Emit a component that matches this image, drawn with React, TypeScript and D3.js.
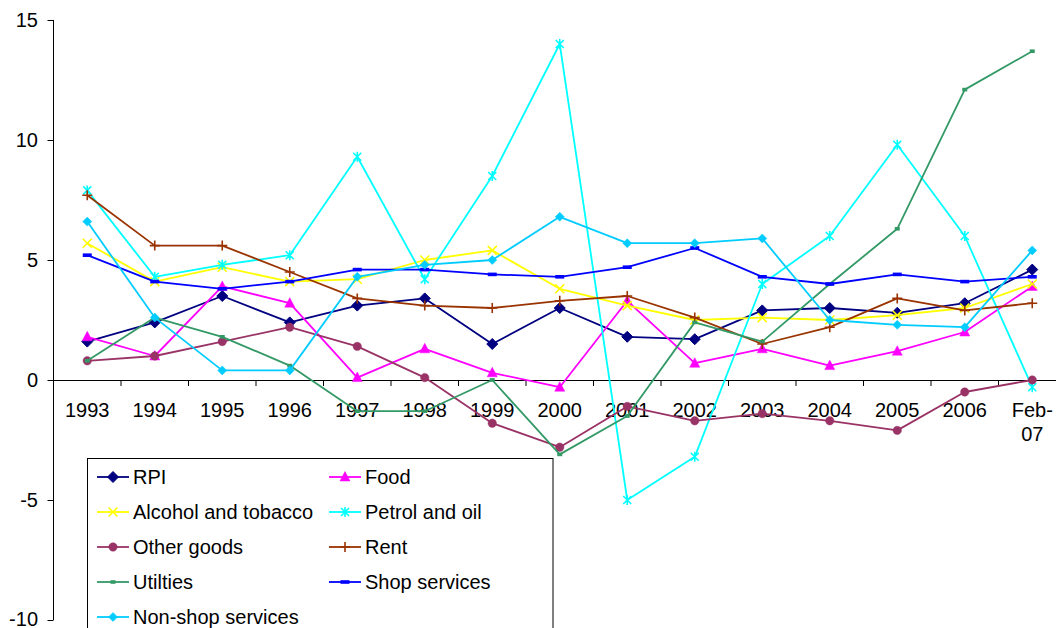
import React from "react";
import * as d3 from "d3";

const categories = ["1993","1994","1995","1996","1997","1998","1999","2000","2001","2002","2003","2004","2005","2006","Feb-07"];
const rpi = [1.6,2.4,3.5,2.4,3.1,3.4,1.5,3.0,1.8,1.7,2.9,3.0,2.8,3.2,4.6];
const food = [1.8,1.0,3.9,3.2,0.1,1.3,0.3,-0.3,3.3,0.7,1.3,0.6,1.2,2.0,3.9];
const alcohol = [5.7,4.1,4.7,4.1,4.2,5.0,5.4,3.8,3.1,2.5,2.6,2.5,2.7,3.0,4.0];
const petrol = [7.9,4.3,4.8,5.2,9.3,4.2,8.5,14.0,-5.0,-3.2,4.0,6.0,9.8,6.0,-0.3];
const otherGoods = [0.8,1.0,1.6,2.2,1.4,0.1,-1.8,-2.8,-1.1,-1.7,-1.4,-1.7,-2.1,-0.5,0.0];
const rent = [7.7,5.6,5.6,4.5,3.4,3.1,3.0,3.3,3.5,2.6,1.5,2.2,3.4,2.9,3.2];
const utilities = [0.8,2.6,1.8,0.6,-1.3,-1.3,0.0,-3.1,-1.5,2.4,1.6,4.0,6.3,12.1,13.7];
const shopServices = [5.2,4.1,3.8,4.1,4.6,4.6,4.4,4.3,4.7,5.5,4.3,4.0,4.4,4.1,4.3];
const nonShopServices = [6.6,2.6,0.4,0.4,4.3,4.8,5.0,6.8,5.7,5.7,5.9,2.5,2.3,2.2,5.4];
const yTicks = [-10,-5,0,5,10,15];

type Marker = "diamond" | "triangle" | "x" | "asterisk" | "circle" | "plus" | "smallrect" | "dash" | "smalldiamond";
const series: { name: string; values: number[]; color: string; marker: Marker }[] = [
  { name: "RPI", values: rpi, color: "#000080", marker: "diamond" },
  { name: "Food", values: food, color: "#FF00FF", marker: "triangle" },
  { name: "Alcohol and tobacco", values: alcohol, color: "#FFFF00", marker: "x" },
  { name: "Petrol and oil", values: petrol, color: "#00FFFF", marker: "asterisk" },
  { name: "Other goods", values: otherGoods, color: "#993366", marker: "circle" },
  { name: "Rent", values: rent, color: "#993300", marker: "plus" },
  { name: "Utilties", values: utilities, color: "#339966", marker: "smallrect" },
  { name: "Shop services", values: shopServices, color: "#0000FF", marker: "dash" },
  { name: "Non-shop services", values: nonShopServices, color: "#00CCFF", marker: "smalldiamond" },
];

const FONT = "'Liberation Sans', Arial, Helvetica, sans-serif";
const FS = 20;

function MarkerShape({ type, x, y, color }: { type: Marker; x: number; y: number; color: string }) {
  switch (type) {
    case "diamond":
      return <path d={`M${x},${y - 5.5}L${x + 5.5},${y}L${x},${y + 5.5}L${x - 5.5},${y}Z`} fill={color} stroke={color} strokeWidth={1} />;
    case "smalldiamond":
      return <path d={`M${x},${y - 4.5}L${x + 4.5},${y}L${x},${y + 4.5}L${x - 4.5},${y}Z`} fill={color} stroke={color} strokeWidth={0.5} />;
    case "triangle":
      return <path d={`M${x},${y - 5.5}L${x + 5},${y + 4}L${x - 5},${y + 4}Z`} fill={color} stroke={color} strokeWidth={0.5} />;
    case "x":
      return <path d={`M${x - 4.5},${y - 4.5}L${x + 4.5},${y + 4.5}M${x - 4.5},${y + 4.5}L${x + 4.5},${y - 4.5}`} stroke={color} strokeWidth={1.6} fill="none" />;
    case "asterisk":
      return <path d={`M${x - 4},${y - 4}L${x + 4},${y + 4}M${x - 4},${y + 4}L${x + 4},${y - 4}M${x},${y - 5}L${x},${y + 5}`} stroke={color} strokeWidth={1.6} fill="none" />;
    case "circle":
      return <circle cx={x} cy={y} r={4.2} fill={color} stroke={color} strokeWidth={0.5} />;
    case "plus":
      return <path d={`M${x - 5},${y}L${x + 5},${y}M${x},${y - 5}L${x},${y + 5}`} stroke={color} strokeWidth={1.6} fill="none" />;
    case "smallrect":
      return <rect x={x - 2.5} y={y - 1.8} width={5} height={3.6} fill={color} />;
    case "dash":
      return <rect x={x - 4.5} y={y - 1.8} width={9} height={3.6} fill={color} />;
  }
  return null;
}

export default function App() {
  const width = 1056;
  const height = 628;
  const x0 = 53.5;
  const band = 67.5;
  const x = d3.scaleBand<string>().domain(categories).range([x0, x0 + band * categories.length]).paddingInner(0).paddingOuter(0);
  const cx = (c: string) => (x(c) as number) + x.bandwidth() / 2;
  const y = d3.scaleLinear().domain([-10, 15]).range([620, 20]);
  const line = d3.line<number>().x((_, i) => cx(categories[i])).y((v) => y(v));

  const legendX = 87.5;
  const legendY = 458.5;
  const rowH = 35;
  const colX = [97, 329];

  return (
    <svg width={width} height={height} style={{ position: "absolute", left: 0, top: 0, display: "block", background: "#fff" }} fontFamily={FONT}>
      <rect x={0} y={0} width={width} height={height} fill="#fff" />
      {/* Y axis */}
      <line x1={x0} x2={x0} y1={y(15)} y2={y(-10)} stroke="#000" strokeWidth={1} />
      {yTicks.map((t) => (
        <g key={t}>
          <line x1={x0 - 6} x2={x0} y1={Math.round(y(t)) + 0.5} y2={Math.round(y(t)) + 0.5} stroke="#000" />
          <text x={38} y={t === -10 ? y(t) - 1 : y(t)} dy="0.35em" textAnchor="end" fontSize={FS} fill="#000">{t}</text>
        </g>
      ))}
      {/* X axis */}
      <line x1={x0} x2={width} y1={y(0) + 0.5} y2={y(0) + 0.5} stroke="#000" />
      {d3.range(categories.length + 1).map((i) => (
        <line key={i} x1={x0 + i * band} x2={x0 + i * band} y1={y(0)} y2={y(0) + 6} stroke="#000" />
      ))}
      {categories.map((c) => {
        const parts = c === "Feb-07" ? ["Feb-", "07"] : [c];
        return (
          <text key={c} x={cx(c)} y={417} textAnchor="middle" fontSize={FS} fill="#000">
            {parts.map((p, i) => (
              <tspan key={i} x={cx(c)} dy={i === 0 ? 0 : 24}>{p}</tspan>
            ))}
          </text>
        );
      })}
      {/* Series */}
      {series.map((s) => (
        <g key={s.name}>
          <path d={line(s.values) || ""} fill="none" stroke={s.color} strokeWidth={1.8} strokeLinejoin="round" />
          {s.values.map((v, i) => (
            <MarkerShape key={i} type={s.marker} x={cx(categories[i])} y={y(v)} color={s.color} />
          ))}
        </g>
      ))}
      {/* Legend */}
      <rect x={legendX} y={legendY} width={553 - legendX} height={200} fill="#fff" stroke="#000" strokeWidth={1} />
      {series.map((s, i) => {
        const col = i % 2;
        const row = Math.floor(i / 2);
        const lx = colX[col];
        const ly = 477 + row * rowH;
        return (
          <g key={s.name}>
            <line x1={lx} x2={lx + 32} y1={ly} y2={ly} stroke={s.color} strokeWidth={1.8} />
            <MarkerShape type={s.marker} x={lx + 16} y={ly} color={s.color} />
            <text x={lx + 36} y={ly} dy="0.35em" fontSize={FS} fill="#000">{s.name}</text>
          </g>
        );
      })}
    </svg>
  );
}
